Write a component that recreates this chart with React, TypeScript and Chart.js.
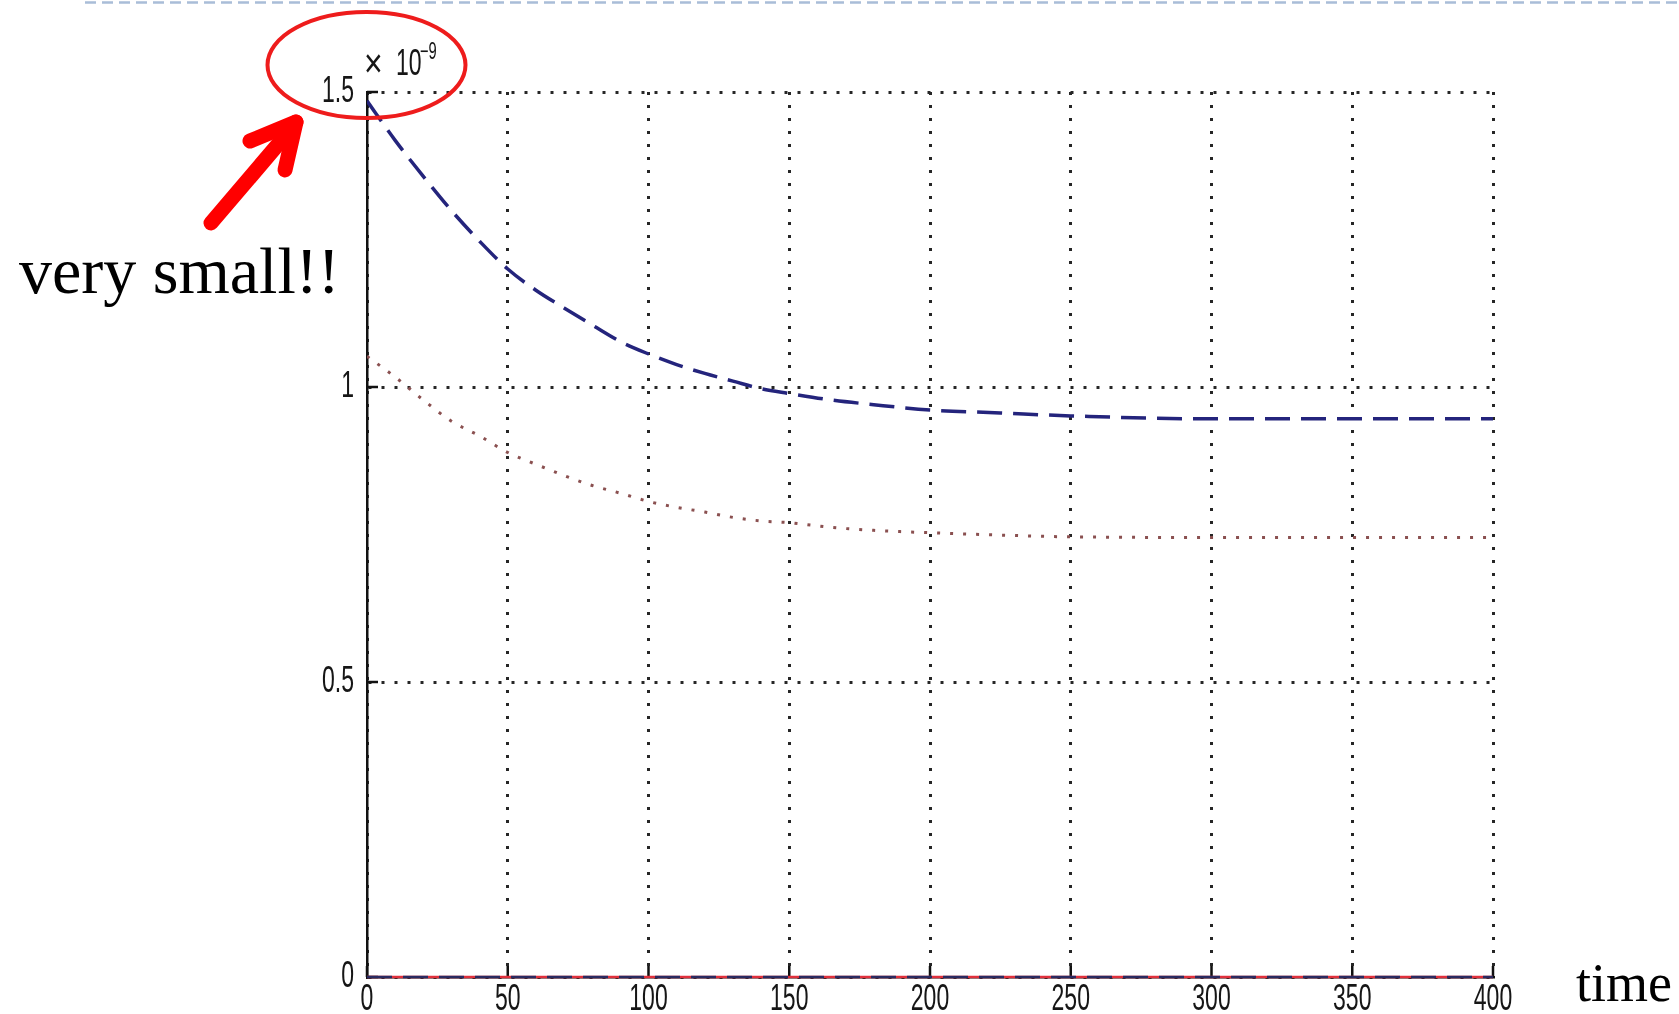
import React, { useEffect, useRef } from "react";
import { Chart, registerables } from "chart.js";

Chart.register(...registerables);

// ---- data (values in units of 1e-9) ----
const timeSteps = [0, 10, 20, 30, 40, 50, 60, 70, 80, 90, 100, 110, 120, 130, 140, 150, 165, 180, 200, 225, 250, 300, 350, 400];
const blueSeries = [1.485, 1.418, 1.357, 1.299, 1.247, 1.200, 1.164, 1.134, 1.105, 1.077, 1.056, 1.038, 1.023, 1.010, 0.997, 0.989, 0.978, 0.970, 0.961, 0.956, 0.951, 0.946, 0.946, 0.946];
const redSeries = [1.052, 1.017, 0.978, 0.942, 0.917, 0.889, 0.869, 0.850, 0.833, 0.820, 0.806, 0.796, 0.788, 0.779, 0.773, 0.770, 0.762, 0.757, 0.753, 0.749, 0.746, 0.745, 0.745, 0.745];
const zeroRedSeries = [0, 0, 0, 0, 0, 0, 0, 0, 0, 0, 0, 0, 0, 0, 0, 0, 0, 0, 0, 0, 0, 0, 0, 0];
const zeroBlueSeries = [0, 0, 0, 0, 0, 0, 0, 0, 0, 0, 0, 0, 0, 0, 0, 0, 0, 0, 0, 0, 0, 0, 0, 0];
const xTickValues = [0, 50, 100, 150, 200, 250, 300, 350, 400];
const yTickValues = [0, 0.5, 1, 1.5];
const exponentBase = "10";
const exponentPower = "\u22129";
const noteText = "very small!!";
const xTitle = "time";

const TICK_FONT = '"Liberation Sans", Arial, sans-serif';
const CONDENSE = 0.64;

const toPoints = (ys: number[]) => timeSteps.map((x, i) => ({ x, y: ys[i] }));

function drawCondensed(ctx: CanvasRenderingContext2D, text: string, x: number, y: number, size: number, align: CanvasTextAlign, squeeze = CONDENSE) {
  ctx.save();
  ctx.translate(x, y);
  ctx.scale(squeeze, 1);
  ctx.font = `${size}px ${TICK_FONT}`;
  ctx.textAlign = align;
  ctx.textBaseline = "alphabetic";
  ctx.fillText(text, 0, 0);
  ctx.restore();
}

const matlabAxesPlugin = {
  id: "matlabAxes",
  beforeDatasetsDraw(chart: any) {
    const { ctx, chartArea, scales } = chart;
    ctx.save();
    ctx.strokeStyle = "#111";
    ctx.lineWidth = 2.5;
    ctx.beginPath();
    scales.x.ticks.forEach((t: any) => {
      const px = scales.x.getPixelForValue(t.value);
      ctx.moveTo(px, chartArea.bottom);
      ctx.lineTo(px, chartArea.bottom - 11);
    });
    scales.y.ticks.forEach((t: any) => {
      const py = scales.y.getPixelForValue(t.value);
      ctx.moveTo(chartArea.left, py);
      ctx.lineTo(chartArea.left + 11, py);
    });
    ctx.stroke();
    ctx.restore();
  },
  afterDraw(chart: any) {
    const { ctx, chartArea, scales } = chart;
    ctx.save();
    ctx.fillStyle = "#161616";
    scales.x.ticks.forEach((t: any) => {
      const px = scales.x.getPixelForValue(t.value);
      drawCondensed(ctx, String(t.value), px, chartArea.bottom + 33, 36, "center");
    });
    scales.y.ticks.forEach((t: any) => {
      const py = scales.y.getPixelForValue(t.value);
      drawCondensed(ctx, String(t.value), chartArea.left - 13, py + 10, 36, "right");
    });
    drawCondensed(ctx, "\u00d7", chartArea.left - 3, chartArea.top - 15, 40, "left", 0.8);
    drawCondensed(ctx, exponentBase, chartArea.left + 29, chartArea.top - 17, 36, "left");
    drawCondensed(ctx, exponentPower, chartArea.left + 53, chartArea.top - 33, 23, "left");
    ctx.restore();
  },
};

export default function App() {
  const canvasRef = useRef<HTMLCanvasElement | null>(null);

  useEffect(() => {
    if (!canvasRef.current) return;
    const chart = new Chart(canvasRef.current, {
      type: "line",
      data: {
        datasets: [
          {
            label: "zero dashed",
            data: toPoints(zeroBlueSeries),
            borderColor: "#2a2a60",
            borderWidth: 2.5,
            borderDash: [25, 11],
            pointRadius: 0,
            clip: false,
            order: 0,
          } as any,
          {
            label: "zero solid",
            data: toPoints(zeroRedSeries),
            borderColor: "#e0303c",
            borderWidth: 2.5,
            pointRadius: 0,
            clip: false,
            order: 1,
          } as any,
          {
            label: "blue",
            data: toPoints(blueSeries),
            borderColor: "#24247c",
            borderWidth: 3.5,
            borderDash: [25, 11],
            pointRadius: 0,
            cubicInterpolationMode: "monotone",
            order: 2,
          } as any,
          {
            label: "red",
            data: toPoints(redSeries),
            borderColor: "#8a5050",
            borderWidth: 3,
            borderDash: [3, 10],
            pointRadius: 0,
            cubicInterpolationMode: "monotone",
            order: 3,
          } as any,
        ],
      },
      options: {
        animation: false,
        responsive: false,
        devicePixelRatio: 1,
        layout: { padding: { left: 307, top: 92, right: 186, bottom: 0 } },
        plugins: { legend: { display: false }, tooltip: { enabled: false } },
        scales: {
          x: {
            type: "linear",
            min: 0,
            max: 400,
            afterFit: (scale: any) => {
              scale.height = 37;
            },
            afterBuildTicks: (scale: any) => {
              scale.ticks = xTickValues.map((v) => ({ value: v }));
            },
            ticks: { display: false },
            grid: { color: "#262626", lineWidth: 3, drawTicks: false },
            border: { display: true, color: "#111", width: 2.5, dash: [3, 10] },
          },
          y: {
            type: "linear",
            min: 0,
            max: 1.5,
            afterFit: (scale: any) => {
              scale.width = 60;
            },
            afterBuildTicks: (scale: any) => {
              scale.ticks = yTickValues.map((v) => ({ value: v }));
            },
            ticks: { display: false },
            grid: { color: "#262626", lineWidth: 3, drawTicks: false },
            border: { display: true, color: "#111", width: 2.5, dash: [3, 10] },
          },
        },
      },
      plugins: [matlabAxesPlugin],
    });
    return () => chart.destroy();
  }, []);

  return (
    <div style={{ position: "absolute", left: 0, top: 0, width: 1679, height: 1014, background: "#fff", overflow: "hidden" }}>
      <canvas ref={canvasRef} width={1679} height={1014} style={{ position: "absolute", left: 0, top: 0 }} />
      <svg width={1679} height={1014} style={{ position: "absolute", left: 0, top: 0, pointerEvents: "none" }}>
        <line x1={85} y1={2.5} x2={1679} y2={2.5} stroke="#a9bdd8" strokeWidth={2.5} strokeDasharray="11 6" />
        <ellipse cx={366.5} cy={65} rx={99} ry={53} fill="none" stroke="#ee1c1c" strokeWidth={4} />
        <g stroke="#ff0000" strokeWidth={15} strokeLinecap="round" fill="none">
          <line x1={211} y1={223} x2={292} y2={128} />
          <line x1={296} y1={122} x2={250} y2={141} />
          <line x1={296} y1={122} x2={285} y2={170} />
        </g>
        <text x={19} y={293} fontFamily='"Liberation Serif", "Times New Roman", serif' fontSize={66} fill="#000">
          {noteText}
        </text>
        <text x={1576} y={1001} fontFamily='"Liberation Serif", "Times New Roman", serif' fontSize={54} fill="#000">
          {xTitle}
        </text>
      </svg>
    </div>
  );
}
